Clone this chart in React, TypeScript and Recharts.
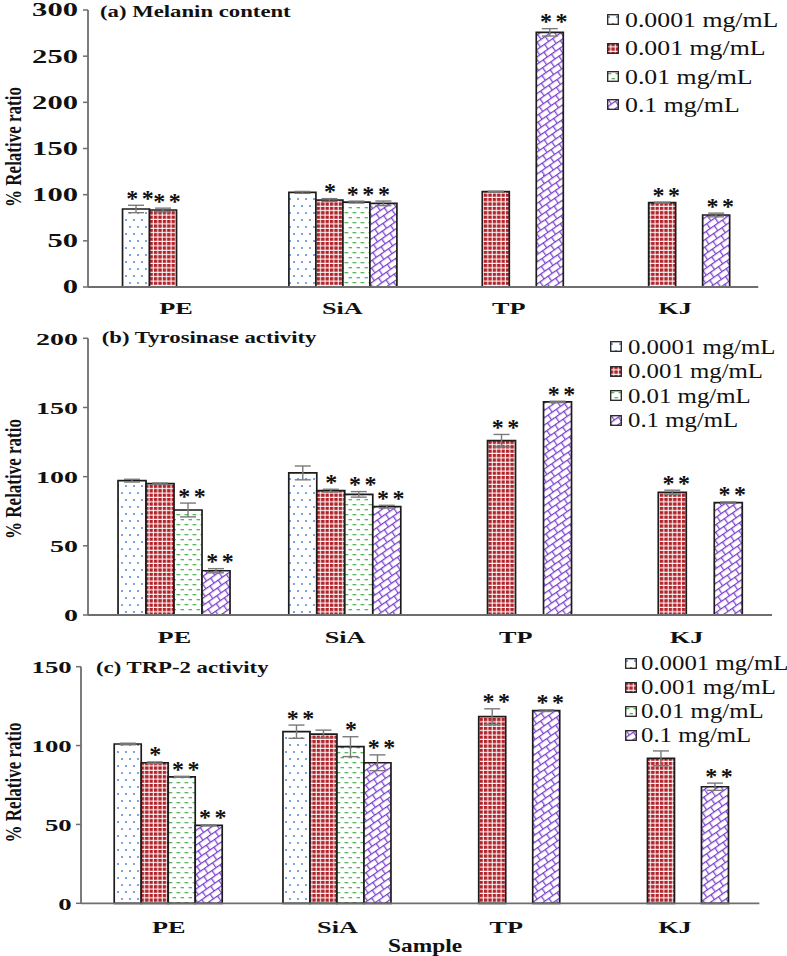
import React from 'react';
import { BarChart, Bar, XAxis, YAxis, ErrorBar, Legend, Rectangle } from 'recharts';

const SERIF = "'Liberation Serif', 'Times New Roman', Times, serif";

const categories = ['PE', 'SiA', 'TP', 'KJ'];
const concentrations = ['0.0001 mg/mL', '0.001 mg/mL', '0.01 mg/mL', '0.1 mg/mL'];

// (a) Melanin content
const melaninC1 = [84.5, 102.5, null, null];
const melaninC2 = [83.4, 94.2, 103.2, 91.3];
const melaninC3 = [null, 92.0, null, null];
const melaninC4 = [null, 90.6, 275.8, 78.0];
const melaninE1 = [4.0, 1.0, null, null];
const melaninE2 = [2.0, 1.5, 0.5, 0.5];
const melaninE3 = [null, 1.0, null, null];
const melaninE4 = [null, 2.5, 4.0, 2.0];
const melaninS1 = ['**', '', '', ''];
const melaninS2 = ['**', '*', '', '**'];
const melaninS3 = ['', '**', '', ''];
const melaninS4 = ['', '*', '**', '**'];
const melaninTicks = [0, 50, 100, 150, 200, 250, 300];

// (b) Tyrosinase activity
const tyrC1 = [97.1, 102.7, null, null];
const tyrC2 = [94.9, 89.9, 126.0, 88.7];
const tyrC3 = [75.9, 87.2, null, null];
const tyrC4 = [32.0, 78.3, 154.0, 81.2];
const tyrE1 = [1.0, 5.0, null, null];
const tyrE2 = [0.5, 1.0, 4.5, 1.5];
const tyrE3 = [5.0, 2.0, null, null];
const tyrE4 = [1.5, 1.0, 0.5, 0.5];
const tyrS1 = ['', '', '', ''];
const tyrS2 = ['', '*', '**', '**'];
const tyrS3 = ['**', '**', '', ''];
const tyrS4 = ['**', '**', '**', '**'];
const tyrTicks = [0, 50, 100, 150, 200];

// (c) TRP-2 activity
const trpC1 = [101.0, 108.8, null, null];
const trpC2 = [89.1, 107.3, 118.3, 91.9];
const trpC3 = [80.2, 99.3, null, null];
const trpC4 = [49.4, 89.1, 122.1, 73.9];
const trpE1 = [0.5, 4.2, null, null];
const trpE2 = [0.5, 2.5, 5.0, 4.7];
const trpE3 = [0.3, 6.3, null, null];
const trpE4 = [0.3, 5.0, 0.5, 2.3];
const trpS1 = ['', '**', '', ''];
const trpS2 = ['*', '', '**', ''];
const trpS3 = ['**', '*', '', ''];
const trpS4 = ['**', '**', '**', '**'];
const trpTicks = [0, 50, 100, 150];

function buildRows(values: any[][], errors: any[][], stars: string[][]) {
  return categories.map((name, i) => {
    const row: any = { name };
    values.forEach((arr, k) => {
      row['v' + k] = arr[i];
      row['e' + k] = errors[k][i];
      row['s' + k] = stars[k][i];
    });
    return row;
  });
}

const rowsA = buildRows([melaninC1, melaninC2, melaninC3, melaninC4], [melaninE1, melaninE2, melaninE3, melaninE4], [melaninS1, melaninS2, melaninS3, melaninS4]);
const rowsB = buildRows([tyrC1, tyrC2, tyrC3, tyrC4], [tyrE1, tyrE2, tyrE3, tyrE4], [tyrS1, tyrS2, tyrS3, tyrS4]);
const rowsC = buildRows([trpC1, trpC2, trpC3, trpC4], [trpE1, trpE2, trpE3, trpE4], [trpS1, trpS2, trpS3, trpS4]);

const PATTERNS = ['pDots', 'pGrid', 'pDash', 'pBrick'];
const AXIS = '#6e6e6e';
const ERR = '#7a7a7a';
const OUTLINE = '#1c1c1c';

function PatternDefs() {
  return (
    <svg width={0} height={0} style={{ position: 'absolute', left: 0, top: 0 }}>
      <defs>
        <pattern id="pDots" width={8} height={14} patternUnits="userSpaceOnUse">
          <rect width={8} height={14} fill="#ffffff" />
          <circle cx={2} cy={3} r={1} fill="#4f86d9" />
          <circle cx={6} cy={10} r={1} fill="#4f86d9" />
        </pattern>
        <pattern id="pGrid" width={4.4} height={4.4} patternUnits="userSpaceOnUse">
          <rect width={4.4} height={4.4} fill="#b0232a" />
          <path d="M3.8 0 V4.4 M0 3.8 H4.4" stroke="#ffffff" strokeWidth={1.0} />
        </pattern>
        <pattern id="pDash" width={8} height={10} patternUnits="userSpaceOnUse">
          <rect width={8} height={10} fill="#ffffff" />
          <rect x={0.5} y={2} width={3.8} height={1.3} fill="#55b95a" />
          <rect x={4.5} y={7} width={3.5} height={1.3} fill="#55b95a" />
        </pattern>
        <pattern id="pBrick" width={10} height={12} patternUnits="userSpaceOnUse" patternTransform="rotate(-35)">
          <rect width={10} height={12} fill="#ffffff" />
          <path d="M0 0.7 H10 M0 6.7 H10 M0.7 0.7 V6.7 M5.7 6.7 V12.7" stroke="#7a3dcc" strokeWidth={1.2} fill="none" />
        </pattern>
      </defs>
    </svg>
  );
}

const makeYTick = (scale: number, fontSize: number) => (props: any) => {
  const { x, y, payload } = props;
  return (
    <text transform={`translate(${x},${y}) scale(${scale},1)`} textAnchor="end" dy="0.36em"
      fontFamily={SERIF} fontWeight="bold" fontSize={fontSize} fill="#111">
      {payload.value}
    </text>
  );
};

const makeXTick = (offset: number, scale: number, fontSize: number) => (props: any) => {
  const { x, y, payload } = props;
  return (
    <text transform={`translate(${x},${y + offset}) scale(${scale},1)`} textAnchor="middle"
      fontFamily={SERIF} fontWeight="bold" fontSize={fontSize} fill="#111">
      {payload.value}
    </text>
  );
};

const makeBarShape = (k: number) => (props: any) => {
  const { x, y, width, height, payload } = props;
  if (!payload || payload['v' + k] == null || !isFinite(height) || height <= 0) return <g />;
  const v = payload['v' + k];
  const e = payload['e' + k] ?? 0;
  const stars: string = payload['s' + k] ?? '';
  const errTop = y - e * (height / v);
  const n = stars.length;
  const cx = x + width / 2 + (n === 2 ? 4 : 0.5);
  return (
    <g>
      <Rectangle x={x} y={y} width={width} height={height} fill={`url(#${PATTERNS[k]})`} stroke={OUTLINE} strokeWidth={1.7} />
      {Array.from(stars).map((s, j) => (
        <text key={j} x={cx + (j - (n - 1) / 2) * 15.5} y={errTop + 0.5} textAnchor="middle"
          fontFamily={SERIF} fontWeight="bold" fontSize={24} fill="#111">{s}</text>
      ))}
    </g>
  );
};

const makeLegend = (cfg: any) => (props: any) => {
  const items = (props.payload && props.payload.length ? props.payload.map((p: any) => p.value) : concentrations);
  return (
    <div style={{ fontFamily: SERIF, color: '#111' }}>
      {items.map((n: string, i: number) => (
        <div key={i} style={{ height: cfg.rowH, display: 'flex', alignItems: 'center', whiteSpace: 'nowrap' }}>
          <svg width={12} height={11} style={{ marginRight: cfg.gap, flex: 'none' }}>
            <rect x={0.7} y={0.7} width={10.6} height={9.6} fill={`url(#${PATTERNS[i]})`} stroke="#222" strokeWidth={1.3} />
          </svg>
          <span style={{ fontSize: 20, lineHeight: 1, display: 'inline-block', transform: `scaleX(${cfg.scale})`, transformOrigin: 'left center' }}>{n}</span>
        </div>
      ))}
    </div>
  );
};

const panels = [
  {
    key: 'a', top: 0, height: 322, marginTop: 10, marginRight: 28.75, xAxisHeight: 35, yAxisWidth: 88, padLeft: 4.75,
    catGap: '17.9%', rows: rowsA, ticks: melaninTicks, yMax: 300, tickMargin: 5, yTickScale: 1.7, yTickFont: 18,
    xOffset: 27, xScale: 1.5, title: '(a) Melanin content', titleX: 100, titleY: 16.7, yLabelY: 147,
    legend: { left: 607, top: 5.8, rowH: 28.3, gap: 6, scale: 1.29 },
  },
  {
    key: 'b', top: 322, height: 328, marginTop: 16.3, marginRight: 15, xAxisHeight: 35, yAxisWidth: 88, padLeft: 1,
    catGap: '17%', rows: rowsB, ticks: tyrTicks, yMax: 200, tickMargin: 5, yTickScale: 1.6, yTickFont: 17.5,
    xOffset: 28.3, xScale: 1.5, title: '(b) Tyrosinase activity', titleX: 101.7, titleY: 21.3, yLabelY: 157,
    legend: { left: 610, top: 12.45, rowH: 24.5, gap: 6, scale: 1.24 },
  },
  {
    key: 'c', top: 630, height: 326, marginTop: 36.7, marginRight: 27.65, xAxisHeight: 52.7, yAxisWidth: 81, padLeft: 3.35,
    catGap: '17.7%', rows: rowsC, ticks: trpTicks, yMax: 150, tickMargin: 4.3, yTickScale: 1.53, yTickFont: 17.5,
    xOffset: 30, xScale: 1.5, title: '(c) TRP-2 activity', titleX: 96, titleY: 43.3, yLabelY: 152.5,
    legend: { left: 625, top: 21, rowH: 24, gap: 3.5, scale: 1.24 },
    sample: { x: 425, y: 321.7 },
  },
];

function Panel({ cfg }: { cfg: any }) {
  return (
    <BarChart width={787} height={cfg.height} data={cfg.rows}
      margin={{ top: cfg.marginTop, right: cfg.marginRight, left: 0, bottom: 0 }}
      barGap={0} barCategoryGap={cfg.catGap}>
      <XAxis dataKey="name" height={cfg.xAxisHeight} interval={0} tickLine={false} tickSize={0} tickMargin={0}
        axisLine={{ stroke: AXIS, strokeWidth: 1.8 }} tick={makeXTick(cfg.xOffset, cfg.xScale, 17.5)}
        padding={{ left: cfg.padLeft, right: 0 }} />
      <YAxis width={cfg.yAxisWidth} domain={[0, cfg.yMax]} ticks={cfg.ticks} interval={0} tickSize={5}
        tickMargin={cfg.tickMargin} tickLine={{ stroke: AXIS, strokeWidth: 1.5 }}
        axisLine={{ stroke: AXIS, strokeWidth: 1.8 }} tick={makeYTick(cfg.yTickScale, cfg.yTickFont)} />
      <Legend layout="vertical" align="center" verticalAlign="middle" content={makeLegend(cfg.legend)}
        wrapperStyle={{ left: cfg.legend.left, top: cfg.legend.top, width: 'auto', height: 'auto' }} />
      {[0, 1, 2, 3].map((k) => (
        <Bar key={k} dataKey={'v' + k} name={concentrations[k]} fill={`url(#${PATTERNS[k]})`} stroke={OUTLINE}
          strokeWidth={1.7} isAnimationActive={false} shape={makeBarShape(k)}>
          <ErrorBar dataKey={'e' + k} width={8} stroke={ERR} strokeWidth={1.4} />
        </Bar>
      ))}
      <text transform={`translate(${cfg.titleX},${cfg.titleY}) scale(1.3,1)`} fontFamily={SERIF} fontWeight="bold"
        fontSize={17.5} fill="#111">{cfg.title}</text>
      <text transform={`translate(21,${cfg.yLabelY}) scale(1.35,1) rotate(-90)`} textAnchor="middle" fontFamily={SERIF}
        fontWeight="bold" fontSize={17} fill="#111">% Relative ratio</text>
      {cfg.sample ? (
        <text transform={`translate(${cfg.sample.x},${cfg.sample.y}) scale(1.3,1)`} textAnchor="middle" fontFamily={SERIF}
          fontWeight="bold" fontSize={18} fill="#111">Sample</text>
      ) : null}
    </BarChart>
  );
}

export default function App() {
  return (
    <div style={{ position: 'absolute', left: 0, top: 0, width: 787, height: 956, background: '#ffffff', overflow: 'hidden' }}>
      <PatternDefs />
      {panels.map((cfg) => (
        <div key={cfg.key} style={{ position: 'absolute', left: 0, top: cfg.top }}>
          <Panel cfg={cfg} />
        </div>
      ))}
    </div>
  );
}
